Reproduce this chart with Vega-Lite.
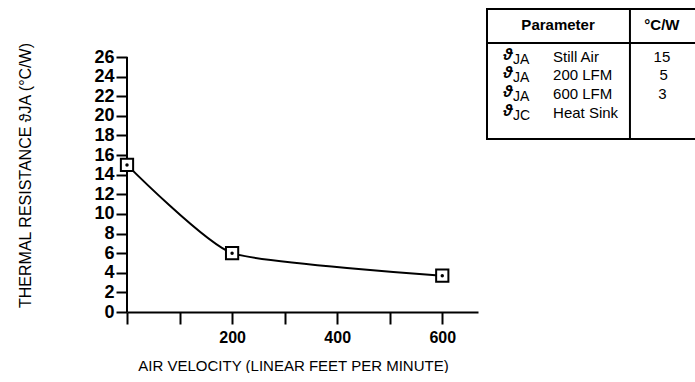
{
  "$schema": "https://vega.github.io/schema/vega-lite/v6.json",
  "padding": {"left": 17, "top": 7, "right": 2, "bottom": 0},
  "config": {"font": "Liberation Sans", "view": {"stroke": null}},
  "datasets": {
    "pts": [
      {"v": 0, "r": 15.0},
      {"v": 200, "r": 6.0},
      {"v": 600, "r": 3.7}
    ],
    "yaxis": [{"v": 0, "r": 0, "r2": 26}],
    "table": [
      {"t": "Parameter", "x": 34, "y": 12.3, "role": "head"},
      {"t": "°C/W", "x": 83.7, "y": 12.3, "role": "head"},
      {"t": "ϑ", "x": 10, "y": 36.9, "role": "sym"},
      {"t": "ϑ", "x": 10, "y": 50.8, "role": "sym"},
      {"t": "ϑ", "x": 10, "y": 65.4, "role": "sym"},
      {"t": "ϑ", "x": 10, "y": 80, "role": "sym"},
      {"t": "JA", "x": 12.4, "y": 36.9, "role": "sub"},
      {"t": "JA", "x": 12.4, "y": 50.8, "role": "sub"},
      {"t": "JA", "x": 12.4, "y": 65.4, "role": "sub"},
      {"t": "JC", "x": 12.4, "y": 80, "role": "sub"},
      {"t": "Still Air", "x": 31.6, "y": 36.9, "role": "name"},
      {"t": "200 LFM", "x": 31.6, "y": 50.8, "role": "name"},
      {"t": "600 LFM", "x": 31.6, "y": 65.4, "role": "name"},
      {"t": "Heat Sink", "x": 31.6, "y": 80, "role": "name"},
      {"t": "15", "x": 83.7, "y": 36.9, "role": "val"},
      {"t": "5", "x": 84.5, "y": 50.8, "role": "val"},
      {"t": "3", "x": 83.9, "y": 65.4, "role": "val"}
    ],
    "tableLines": [
      {"x": 0, "x2": 100, "y": 26.2, "y2": 26.2},
      {"x": 68.4, "x2": 68.4, "y": 0, "y2": 100}
    ]
  },
  "hconcat": [
    {
      "width": 351,
      "height": 303,
      "encoding": {
        "x": {
          "field": "v",
          "type": "quantitative",
          "scale": {"domain": [0, 668], "nice": false, "zero": false},
          "axis": {
            "values": [0, 100, 200, 300, 400, 500, 600],
            "labelExpr": "(datum.value == 200 || datum.value == 400 || datum.value == 600) ? datum.label : ''",
            "format": "d",
            "grid": false,
            "domainColor": "black",
            "domainWidth": 2,
            "tickColor": "black",
            "tickWidth": 2,
            "tickSize": 12,
            "labelFontSize": 16,
            "labelFontWeight": "bold",
            "labelColor": "black",
            "labelPadding": 5,
            "labelFlush": false,
            "labelOverlap": false,
            "title": "AIR VELOCITY (LINEAR FEET PER MINUTE)",
            "titleFontSize": 15,
            "titleFontWeight": "normal",
            "titleColor": "black",
            "titlePadding": 13,
            "titleX": 166
          }
        },
        "y": {
          "field": "r",
          "type": "quantitative",
          "scale": {"domain": [0, 30.9], "nice": false, "zero": true},
          "axis": {
            "values": [0, 2, 4, 6, 8, 10, 12, 14, 16, 18, 20, 22, 24, 26],
            "format": "d",
            "grid": false,
            "domain": false,
            "tickColor": "black",
            "tickWidth": 2,
            "tickSize": 11,
            "labelFontSize": 18,
            "labelFontWeight": "bold",
            "labelColor": "black",
            "labelPadding": 2,
            "labelFlush": false,
            "labelOverlap": false,
            "title": "THERMAL RESISTANCE ϑJA (°C/W)",
            "titleFontSize": 16,
            "titleFontWeight": "normal",
            "titleColor": "black",
            "titlePadding": 60,
            "titleY": 166
          }
        }
      },
      "layer": [
        {
          "data": {"name": "yaxis"},
          "mark": {"type": "rule", "color": "black", "strokeWidth": 2},
          "encoding": {"y2": {"field": "r2"}}
        },
        {
          "data": {"name": "pts"},
          "mark": {"type": "line", "interpolate": "cardinal", "tension": 0.5, "color": "black", "strokeWidth": 2}
        },
        {
          "data": {"name": "pts"},
          "mark": {"type": "point", "shape": "square", "size": 150, "filled": false, "fill": "white", "fillOpacity": 1, "stroke": "black", "strokeWidth": 2, "opacity": 1}
        },
        {
          "data": {"name": "pts"},
          "mark": {"type": "point", "shape": "circle", "size": 12, "filled": true, "color": "black", "opacity": 1}
        }
      ]
    },
    {
      "width": 209,
      "height": 130,
      "view": {"stroke": "black", "strokeWidth": 2},
      "encoding": {
        "x": {"field": "x", "type": "quantitative", "scale": {"domain": [0, 100], "nice": false}, "axis": null},
        "y": {"field": "y", "type": "quantitative", "scale": {"domain": [0, 100], "nice": false, "reverse": true}, "axis": null}
      },
      "layer": [
        {
          "data": {"name": "tableLines"},
          "mark": {"type": "rule", "color": "black", "strokeWidth": 2},
          "encoding": {"x2": {"field": "x2"}, "y2": {"field": "y2"}}
        },
        {
          "data": {"name": "table"},
          "transform": [{"filter": "datum.role == 'head'"}],
          "mark": {"type": "text", "fontSize": 15, "fontWeight": "bold", "align": "center", "baseline": "middle", "color": "black"},
          "encoding": {"text": {"field": "t"}}
        },
        {
          "data": {"name": "table"},
          "transform": [{"filter": "datum.role == 'sym'"}],
          "mark": {"type": "text", "fontSize": 16, "fontStyle": "italic", "fontWeight": "bold", "align": "center", "baseline": "middle", "color": "black", "dy": -2},
          "encoding": {"text": {"field": "t"}}
        },
        {
          "data": {"name": "table"},
          "transform": [{"filter": "datum.role == 'sub'"}],
          "mark": {"type": "text", "fontSize": 14, "align": "left", "baseline": "middle", "color": "black", "dy": 3},
          "encoding": {"text": {"field": "t"}}
        },
        {
          "data": {"name": "table"},
          "transform": [{"filter": "datum.role == 'name'"}],
          "mark": {"type": "text", "fontSize": 15, "align": "left", "baseline": "middle", "color": "black"},
          "encoding": {"text": {"field": "t"}}
        },
        {
          "data": {"name": "table"},
          "transform": [{"filter": "datum.role == 'val'"}],
          "mark": {"type": "text", "fontSize": 15, "align": "center", "baseline": "middle", "color": "black"},
          "encoding": {"text": {"field": "t"}}
        }
      ]
    }
  ],
  "spacing": 7
}
